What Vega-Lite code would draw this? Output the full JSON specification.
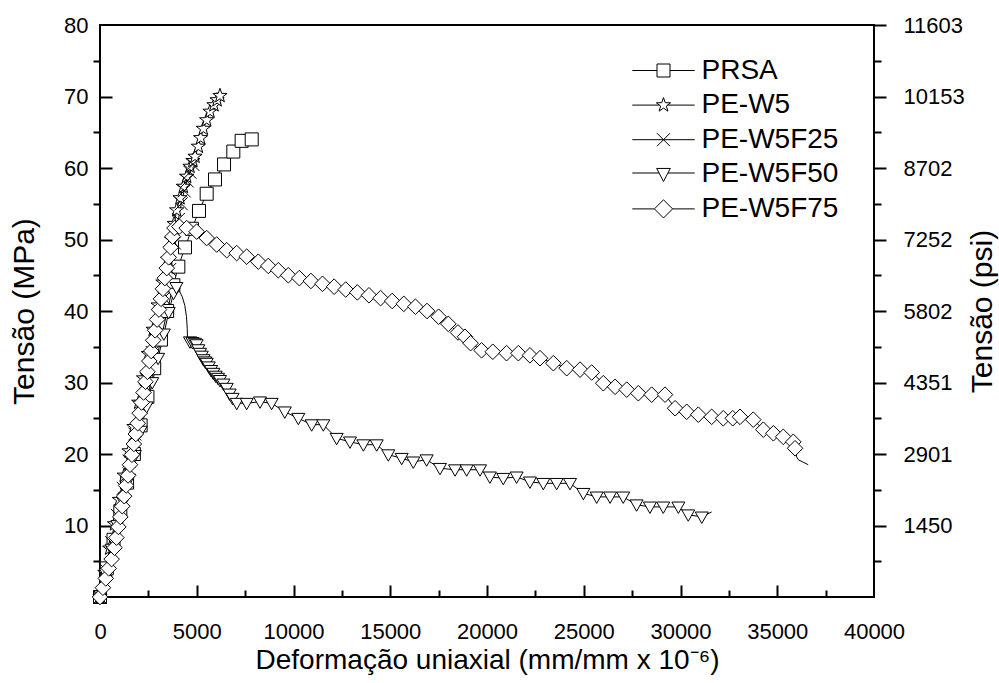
{
  "$schema": "https://vega.github.io/schema/vega-lite/v6.json",
  "width": 774,
  "height": 572,
  "autosize": {"type": "none"},
  "padding": {"left": 100, "top": 25, "right": 125, "bottom": 86},
  "background": "white",
  "config": {
    "font": "Liberation Sans",
    "view": {"stroke": "black", "strokeWidth": 2},
    "axis": {
      "domain": false,
      "grid": false,
      "labelFont": "Liberation Sans",
      "labelFontSize": 22,
      "labelColor": "black",
      "titleFont": "Liberation Sans",
      "titleFontSize": 28,
      "titleFontWeight": "normal",
      "titleColor": "black",
      "tickColor": "black",
      "tickWidth": 2
    }
  },
  "datasets": {
    "ensaios": [
      {"serie": "PRSA", "deformacao": 0, "tensao": 0, "marcador": 1},
      {"serie": "PRSA", "deformacao": 350, "tensao": 4, "marcador": 1},
      {"serie": "PRSA", "deformacao": 700, "tensao": 8, "marcador": 1},
      {"serie": "PRSA", "deformacao": 1050, "tensao": 12, "marcador": 1},
      {"serie": "PRSA", "deformacao": 1400, "tensao": 16, "marcador": 1},
      {"serie": "PRSA", "deformacao": 1750, "tensao": 20, "marcador": 1},
      {"serie": "PRSA", "deformacao": 2100, "tensao": 24, "marcador": 1},
      {"serie": "PRSA", "deformacao": 2450, "tensao": 28, "marcador": 1},
      {"serie": "PRSA", "deformacao": 2800, "tensao": 32, "marcador": 1},
      {"serie": "PRSA", "deformacao": 3150, "tensao": 36, "marcador": 1},
      {"serie": "PRSA", "deformacao": 3470, "tensao": 40, "marcador": 1},
      {"serie": "PRSA", "deformacao": 3790, "tensao": 43.6, "marcador": 1},
      {"serie": "PRSA", "deformacao": 4048, "tensao": 46.2, "marcador": 1},
      {"serie": "PRSA", "deformacao": 4393, "tensao": 48.9, "marcador": 1},
      {"serie": "PRSA", "deformacao": 4750, "tensao": 51.5, "marcador": 1},
      {"serie": "PRSA", "deformacao": 5116, "tensao": 54.0, "marcador": 1},
      {"serie": "PRSA", "deformacao": 5513, "tensao": 56.4, "marcador": 1},
      {"serie": "PRSA", "deformacao": 5943, "tensao": 58.4, "marcador": 1},
      {"serie": "PRSA", "deformacao": 6410, "tensao": 60.5, "marcador": 1},
      {"serie": "PRSA", "deformacao": 6890, "tensao": 62.3, "marcador": 1},
      {"serie": "PRSA", "deformacao": 7320, "tensao": 63.8, "marcador": 1},
      {"serie": "PRSA", "deformacao": 7840, "tensao": 64.0, "marcador": 1},

      {"serie": "PE-W5", "deformacao": 0, "tensao": 0, "marcador": 1},
      {"serie": "PE-W5", "deformacao": 250, "tensao": 3.4, "marcador": 1},
      {"serie": "PE-W5", "deformacao": 500, "tensao": 6.8, "marcador": 1},
      {"serie": "PE-W5", "deformacao": 750, "tensao": 10.2, "marcador": 1},
      {"serie": "PE-W5", "deformacao": 1000, "tensao": 13.6, "marcador": 1},
      {"serie": "PE-W5", "deformacao": 1250, "tensao": 17.0, "marcador": 1},
      {"serie": "PE-W5", "deformacao": 1500, "tensao": 20.4, "marcador": 1},
      {"serie": "PE-W5", "deformacao": 1750, "tensao": 23.8, "marcador": 1},
      {"serie": "PE-W5", "deformacao": 2000, "tensao": 27.2, "marcador": 1},
      {"serie": "PE-W5", "deformacao": 2250, "tensao": 30.6, "marcador": 1},
      {"serie": "PE-W5", "deformacao": 2500, "tensao": 34.0, "marcador": 1},
      {"serie": "PE-W5", "deformacao": 2750, "tensao": 37.4, "marcador": 1},
      {"serie": "PE-W5", "deformacao": 3000, "tensao": 40.8, "marcador": 1},
      {"serie": "PE-W5", "deformacao": 3250, "tensao": 44.0, "marcador": 1},
      {"serie": "PE-W5", "deformacao": 3500, "tensao": 47.2, "marcador": 1},
      {"serie": "PE-W5", "deformacao": 3700, "tensao": 50.0, "marcador": 1},
      {"serie": "PE-W5", "deformacao": 3830, "tensao": 52.2, "marcador": 1},
      {"serie": "PE-W5", "deformacao": 3962, "tensao": 54.1, "marcador": 1},
      {"serie": "PE-W5", "deformacao": 4134, "tensao": 55.8, "marcador": 1},
      {"serie": "PE-W5", "deformacao": 4307, "tensao": 57.4, "marcador": 1},
      {"serie": "PE-W5", "deformacao": 4479, "tensao": 58.8, "marcador": 1},
      {"serie": "PE-W5", "deformacao": 4651, "tensao": 60.2, "marcador": 1},
      {"serie": "PE-W5", "deformacao": 4800, "tensao": 61.0, "marcador": 1},
      {"serie": "PE-W5", "deformacao": 4910, "tensao": 61.6, "marcador": 1},
      {"serie": "PE-W5", "deformacao": 5083, "tensao": 63.0, "marcador": 1},
      {"serie": "PE-W5", "deformacao": 5200, "tensao": 64.2, "marcador": 1},
      {"serie": "PE-W5", "deformacao": 5340, "tensao": 65.5, "marcador": 1},
      {"serie": "PE-W5", "deformacao": 5513, "tensao": 66.7, "marcador": 1},
      {"serie": "PE-W5", "deformacao": 5685, "tensao": 67.9, "marcador": 1},
      {"serie": "PE-W5", "deformacao": 5890, "tensao": 68.8, "marcador": 1},
      {"serie": "PE-W5", "deformacao": 6050, "tensao": 69.5, "marcador": 1},
      {"serie": "PE-W5", "deformacao": 6200, "tensao": 70.1, "marcador": 1},

      {"serie": "PE-W5F25", "deformacao": 0, "tensao": 0, "marcador": 1},
      {"serie": "PE-W5F25", "deformacao": 300, "tensao": 3.8, "marcador": 1},
      {"serie": "PE-W5F25", "deformacao": 600, "tensao": 7.6, "marcador": 1},
      {"serie": "PE-W5F25", "deformacao": 900, "tensao": 11.4, "marcador": 1},
      {"serie": "PE-W5F25", "deformacao": 1200, "tensao": 15.2, "marcador": 1},
      {"serie": "PE-W5F25", "deformacao": 1500, "tensao": 19.0, "marcador": 1},
      {"serie": "PE-W5F25", "deformacao": 1800, "tensao": 22.8, "marcador": 1},
      {"serie": "PE-W5F25", "deformacao": 2100, "tensao": 26.6, "marcador": 1},
      {"serie": "PE-W5F25", "deformacao": 2400, "tensao": 30.4, "marcador": 1},
      {"serie": "PE-W5F25", "deformacao": 2700, "tensao": 34.2, "marcador": 1},
      {"serie": "PE-W5F25", "deformacao": 3000, "tensao": 38.0, "marcador": 1},
      {"serie": "PE-W5F25", "deformacao": 3300, "tensao": 41.8, "marcador": 1},
      {"serie": "PE-W5F25", "deformacao": 3600, "tensao": 45.8, "marcador": 1},
      {"serie": "PE-W5F25", "deformacao": 3850, "tensao": 49.5, "marcador": 1},
      {"serie": "PE-W5F25", "deformacao": 4050, "tensao": 52.8, "marcador": 1},
      {"serie": "PE-W5F25", "deformacao": 4200, "tensao": 55.0, "marcador": 1},
      {"serie": "PE-W5F25", "deformacao": 4350, "tensao": 56.8, "marcador": 1},
      {"serie": "PE-W5F25", "deformacao": 4500, "tensao": 58.2, "marcador": 1},
      {"serie": "PE-W5F25", "deformacao": 4650, "tensao": 59.4, "marcador": 1},
      {"serie": "PE-W5F25", "deformacao": 4800, "tensao": 60.5, "marcador": 1},

      {"serie": "PE-W5F50", "deformacao": 0, "tensao": 0, "marcador": 1},
      {"serie": "PE-W5F50", "deformacao": 300, "tensao": 3.3, "marcador": 1},
      {"serie": "PE-W5F50", "deformacao": 600, "tensao": 6.7, "marcador": 1},
      {"serie": "PE-W5F50", "deformacao": 900, "tensao": 10.0, "marcador": 1},
      {"serie": "PE-W5F50", "deformacao": 1200, "tensao": 13.3, "marcador": 1},
      {"serie": "PE-W5F50", "deformacao": 1500, "tensao": 16.5, "marcador": 1},
      {"serie": "PE-W5F50", "deformacao": 1800, "tensao": 19.8, "marcador": 1},
      {"serie": "PE-W5F50", "deformacao": 2100, "tensao": 23.2, "marcador": 1},
      {"serie": "PE-W5F50", "deformacao": 2400, "tensao": 26.6, "marcador": 1},
      {"serie": "PE-W5F50", "deformacao": 2700, "tensao": 30.0, "marcador": 1},
      {"serie": "PE-W5F50", "deformacao": 3000, "tensao": 33.4, "marcador": 1},
      {"serie": "PE-W5F50", "deformacao": 3300, "tensao": 36.8, "marcador": 1},
      {"serie": "PE-W5F50", "deformacao": 3550, "tensao": 39.8, "marcador": 1},
      {"serie": "PE-W5F50", "deformacao": 3800, "tensao": 42.5, "marcador": 1},
      {"serie": "PE-W5F50", "deformacao": 3950, "tensao": 43.3, "marcador": 1},
      {"serie": "PE-W5F50", "deformacao": 4100, "tensao": 42.8, "marcador": 0},
      {"serie": "PE-W5F50", "deformacao": 4250, "tensao": 42.0, "marcador": 0},
      {"serie": "PE-W5F50", "deformacao": 4380, "tensao": 40.8, "marcador": 0},
      {"serie": "PE-W5F50", "deformacao": 4470, "tensao": 39.2, "marcador": 0},
      {"serie": "PE-W5F50", "deformacao": 4510, "tensao": 37.5, "marcador": 0},
      {"serie": "PE-W5F50", "deformacao": 4520, "tensao": 36.2, "marcador": 0},
      {"serie": "PE-W5F50", "deformacao": 4651, "tensao": 35.7, "marcador": 1},
      {"serie": "PE-W5F50", "deformacao": 4780, "tensao": 35.6, "marcador": 1},
      {"serie": "PE-W5F50", "deformacao": 4900, "tensao": 35.5, "marcador": 1},
      {"serie": "PE-W5F50", "deformacao": 4995, "tensao": 35.3, "marcador": 1},
      {"serie": "PE-W5F50", "deformacao": 5080, "tensao": 34.6, "marcador": 1},
      {"serie": "PE-W5F50", "deformacao": 5168, "tensao": 34.1, "marcador": 1},
      {"serie": "PE-W5F50", "deformacao": 5260, "tensao": 33.7, "marcador": 1},
      {"serie": "PE-W5F50", "deformacao": 5350, "tensao": 33.2, "marcador": 1},
      {"serie": "PE-W5F50", "deformacao": 5440, "tensao": 32.9, "marcador": 1},
      {"serie": "PE-W5F50", "deformacao": 5513, "tensao": 32.7, "marcador": 1},
      {"serie": "PE-W5F50", "deformacao": 5620, "tensao": 32.2, "marcador": 1},
      {"serie": "PE-W5F50", "deformacao": 5740, "tensao": 31.7, "marcador": 1},
      {"serie": "PE-W5F50", "deformacao": 5857, "tensao": 31.3, "marcador": 1},
      {"serie": "PE-W5F50", "deformacao": 5980, "tensao": 30.9, "marcador": 1},
      {"serie": "PE-W5F50", "deformacao": 6100, "tensao": 30.6, "marcador": 1},
      {"serie": "PE-W5F50", "deformacao": 6200, "tensao": 30.3, "marcador": 1},
      {"serie": "PE-W5F50", "deformacao": 6380, "tensao": 29.8, "marcador": 1},
      {"serie": "PE-W5F50", "deformacao": 6548, "tensao": 29.2, "marcador": 1},
      {"serie": "PE-W5F50", "deformacao": 6700, "tensao": 28.4, "marcador": 1},
      {"serie": "PE-W5F50", "deformacao": 6850, "tensao": 27.8, "marcador": 1},
      {"serie": "PE-W5F50", "deformacao": 7064, "tensao": 27.1, "marcador": 1},
      {"serie": "PE-W5F50", "deformacao": 7580, "tensao": 27.1, "marcador": 1},
      {"serie": "PE-W5F50", "deformacao": 8270, "tensao": 27.3, "marcador": 1},
      {"serie": "PE-W5F50", "deformacao": 8870, "tensao": 27.1, "marcador": 1},
      {"serie": "PE-W5F50", "deformacao": 9550, "tensao": 25.9, "marcador": 1},
      {"serie": "PE-W5F50", "deformacao": 10250, "tensao": 25.0, "marcador": 1},
      {"serie": "PE-W5F50", "deformacao": 10940, "tensao": 24.1, "marcador": 1},
      {"serie": "PE-W5F50", "deformacao": 11540, "tensao": 24.1, "marcador": 1},
      {"serie": "PE-W5F50", "deformacao": 12230, "tensao": 22.2, "marcador": 1},
      {"serie": "PE-W5F50", "deformacao": 12920, "tensao": 21.7, "marcador": 1},
      {"serie": "PE-W5F50", "deformacao": 13610, "tensao": 21.3, "marcador": 1},
      {"serie": "PE-W5F50", "deformacao": 14300, "tensao": 21.3, "marcador": 1},
      {"serie": "PE-W5F50", "deformacao": 14900, "tensao": 19.9, "marcador": 1},
      {"serie": "PE-W5F50", "deformacao": 15590, "tensao": 19.4, "marcador": 1},
      {"serie": "PE-W5F50", "deformacao": 16190, "tensao": 18.9, "marcador": 1},
      {"serie": "PE-W5F50", "deformacao": 16880, "tensao": 19.2, "marcador": 1},
      {"serie": "PE-W5F50", "deformacao": 17570, "tensao": 18.0, "marcador": 1},
      {"serie": "PE-W5F50", "deformacao": 18350, "tensao": 17.8, "marcador": 1},
      {"serie": "PE-W5F50", "deformacao": 18950, "tensao": 17.8, "marcador": 1},
      {"serie": "PE-W5F50", "deformacao": 19640, "tensao": 17.8, "marcador": 1},
      {"serie": "PE-W5F50", "deformacao": 20150, "tensao": 16.8, "marcador": 1},
      {"serie": "PE-W5F50", "deformacao": 20840, "tensao": 16.6, "marcador": 1},
      {"serie": "PE-W5F50", "deformacao": 21530, "tensao": 16.8, "marcador": 1},
      {"serie": "PE-W5F50", "deformacao": 22220, "tensao": 16.1, "marcador": 1},
      {"serie": "PE-W5F50", "deformacao": 22910, "tensao": 15.9, "marcador": 1},
      {"serie": "PE-W5F50", "deformacao": 23600, "tensao": 15.9, "marcador": 1},
      {"serie": "PE-W5F50", "deformacao": 24290, "tensao": 15.9, "marcador": 1},
      {"serie": "PE-W5F50", "deformacao": 24980, "tensao": 14.5, "marcador": 1},
      {"serie": "PE-W5F50", "deformacao": 25670, "tensao": 14.0, "marcador": 1},
      {"serie": "PE-W5F50", "deformacao": 26360, "tensao": 14.0, "marcador": 1},
      {"serie": "PE-W5F50", "deformacao": 27040, "tensao": 14.0, "marcador": 1},
      {"serie": "PE-W5F50", "deformacao": 27730, "tensao": 12.9, "marcador": 1},
      {"serie": "PE-W5F50", "deformacao": 28420, "tensao": 12.6, "marcador": 1},
      {"serie": "PE-W5F50", "deformacao": 29110, "tensao": 12.6, "marcador": 1},
      {"serie": "PE-W5F50", "deformacao": 29890, "tensao": 12.6, "marcador": 1},
      {"serie": "PE-W5F50", "deformacao": 30400, "tensao": 11.5, "marcador": 1},
      {"serie": "PE-W5F50", "deformacao": 31100, "tensao": 11.2, "marcador": 1},
      {"serie": "PE-W5F50", "deformacao": 31610, "tensao": 11.9, "marcador": 0},

      {"serie": "PE-W5F75", "deformacao": 0, "tensao": 0, "marcador": 1},
      {"serie": "PE-W5F75", "deformacao": 150, "tensao": 1.3, "marcador": 1},
      {"serie": "PE-W5F75", "deformacao": 300, "tensao": 2.6, "marcador": 1},
      {"serie": "PE-W5F75", "deformacao": 450, "tensao": 4.0, "marcador": 1},
      {"serie": "PE-W5F75", "deformacao": 600, "tensao": 5.3, "marcador": 1},
      {"serie": "PE-W5F75", "deformacao": 750, "tensao": 6.9, "marcador": 1},
      {"serie": "PE-W5F75", "deformacao": 850, "tensao": 8.3, "marcador": 1},
      {"serie": "PE-W5F75", "deformacao": 950, "tensao": 9.8, "marcador": 1},
      {"serie": "PE-W5F75", "deformacao": 1050, "tensao": 11.2, "marcador": 1},
      {"serie": "PE-W5F75", "deformacao": 1150, "tensao": 12.7, "marcador": 1},
      {"serie": "PE-W5F75", "deformacao": 1250, "tensao": 14.1, "marcador": 1},
      {"serie": "PE-W5F75", "deformacao": 1350, "tensao": 15.6, "marcador": 1},
      {"serie": "PE-W5F75", "deformacao": 1450, "tensao": 17.0, "marcador": 1},
      {"serie": "PE-W5F75", "deformacao": 1550, "tensao": 18.5, "marcador": 1},
      {"serie": "PE-W5F75", "deformacao": 1650, "tensao": 19.9, "marcador": 1},
      {"serie": "PE-W5F75", "deformacao": 1750, "tensao": 21.4, "marcador": 1},
      {"serie": "PE-W5F75", "deformacao": 1850, "tensao": 22.8, "marcador": 1},
      {"serie": "PE-W5F75", "deformacao": 1950, "tensao": 24.3, "marcador": 1},
      {"serie": "PE-W5F75", "deformacao": 2050, "tensao": 25.7, "marcador": 1},
      {"serie": "PE-W5F75", "deformacao": 2150, "tensao": 27.2, "marcador": 1},
      {"serie": "PE-W5F75", "deformacao": 2250, "tensao": 28.6, "marcador": 1},
      {"serie": "PE-W5F75", "deformacao": 2350, "tensao": 30.1, "marcador": 1},
      {"serie": "PE-W5F75", "deformacao": 2450, "tensao": 31.5, "marcador": 1},
      {"serie": "PE-W5F75", "deformacao": 2550, "tensao": 33.0, "marcador": 1},
      {"serie": "PE-W5F75", "deformacao": 2650, "tensao": 34.4, "marcador": 1},
      {"serie": "PE-W5F75", "deformacao": 2750, "tensao": 35.9, "marcador": 1},
      {"serie": "PE-W5F75", "deformacao": 2850, "tensao": 37.3, "marcador": 1},
      {"serie": "PE-W5F75", "deformacao": 2950, "tensao": 38.8, "marcador": 1},
      {"serie": "PE-W5F75", "deformacao": 3050, "tensao": 40.2, "marcador": 1},
      {"serie": "PE-W5F75", "deformacao": 3150, "tensao": 41.7, "marcador": 1},
      {"serie": "PE-W5F75", "deformacao": 3250, "tensao": 43.1, "marcador": 1},
      {"serie": "PE-W5F75", "deformacao": 3350, "tensao": 44.6, "marcador": 1},
      {"serie": "PE-W5F75", "deformacao": 3450, "tensao": 46.0, "marcador": 1},
      {"serie": "PE-W5F75", "deformacao": 3550, "tensao": 47.5, "marcador": 1},
      {"serie": "PE-W5F75", "deformacao": 3650, "tensao": 48.9, "marcador": 1},
      {"serie": "PE-W5F75", "deformacao": 3750, "tensao": 50.4, "marcador": 1},
      {"serie": "PE-W5F75", "deformacao": 3850, "tensao": 51.6, "marcador": 1},
      {"serie": "PE-W5F75", "deformacao": 4100, "tensao": 51.8, "marcador": 1},
      {"serie": "PE-W5F75", "deformacao": 4479, "tensao": 51.6, "marcador": 1},
      {"serie": "PE-W5F75", "deformacao": 4995, "tensao": 51.1, "marcador": 1},
      {"serie": "PE-W5F75", "deformacao": 5513, "tensao": 50.2, "marcador": 1},
      {"serie": "PE-W5F75", "deformacao": 6030, "tensao": 49.3, "marcador": 1},
      {"serie": "PE-W5F75", "deformacao": 6548, "tensao": 48.5, "marcador": 1},
      {"serie": "PE-W5F75", "deformacao": 7064, "tensao": 48.1, "marcador": 1},
      {"serie": "PE-W5F75", "deformacao": 7580, "tensao": 47.6, "marcador": 1},
      {"serie": "PE-W5F75", "deformacao": 8182, "tensao": 46.9, "marcador": 1},
      {"serie": "PE-W5F75", "deformacao": 8698, "tensao": 46.3, "marcador": 1},
      {"serie": "PE-W5F75", "deformacao": 9215, "tensao": 45.7, "marcador": 1},
      {"serie": "PE-W5F75", "deformacao": 9731, "tensao": 45.0, "marcador": 1},
      {"serie": "PE-W5F75", "deformacao": 10300, "tensao": 44.6, "marcador": 1},
      {"serie": "PE-W5F75", "deformacao": 10900, "tensao": 44.2, "marcador": 1},
      {"serie": "PE-W5F75", "deformacao": 11500, "tensao": 43.8, "marcador": 1},
      {"serie": "PE-W5F75", "deformacao": 12100, "tensao": 43.4, "marcador": 1},
      {"serie": "PE-W5F75", "deformacao": 12700, "tensao": 43.0, "marcador": 1},
      {"serie": "PE-W5F75", "deformacao": 13300, "tensao": 42.6, "marcador": 1},
      {"serie": "PE-W5F75", "deformacao": 13900, "tensao": 42.2, "marcador": 1},
      {"serie": "PE-W5F75", "deformacao": 14500, "tensao": 41.8, "marcador": 1},
      {"serie": "PE-W5F75", "deformacao": 15100, "tensao": 41.4, "marcador": 1},
      {"serie": "PE-W5F75", "deformacao": 15700, "tensao": 41.0, "marcador": 1},
      {"serie": "PE-W5F75", "deformacao": 16300, "tensao": 40.6, "marcador": 1},
      {"serie": "PE-W5F75", "deformacao": 16900, "tensao": 40.0, "marcador": 1},
      {"serie": "PE-W5F75", "deformacao": 17500, "tensao": 39.2, "marcador": 1},
      {"serie": "PE-W5F75", "deformacao": 18000, "tensao": 38.2, "marcador": 1},
      {"serie": "PE-W5F75", "deformacao": 18500, "tensao": 37.0, "marcador": 1},
      {"serie": "PE-W5F75", "deformacao": 18860, "tensao": 36.4, "marcador": 1},
      {"serie": "PE-W5F75", "deformacao": 19150, "tensao": 35.5, "marcador": 1},
      {"serie": "PE-W5F75", "deformacao": 19720, "tensao": 34.5, "marcador": 1},
      {"serie": "PE-W5F75", "deformacao": 20300, "tensao": 34.3, "marcador": 1},
      {"serie": "PE-W5F75", "deformacao": 21010, "tensao": 34.1, "marcador": 1},
      {"serie": "PE-W5F75", "deformacao": 21620, "tensao": 34.1, "marcador": 1},
      {"serie": "PE-W5F75", "deformacao": 22220, "tensao": 33.8, "marcador": 1},
      {"serie": "PE-W5F75", "deformacao": 22740, "tensao": 33.4, "marcador": 1},
      {"serie": "PE-W5F75", "deformacao": 23430, "tensao": 32.7, "marcador": 1},
      {"serie": "PE-W5F75", "deformacao": 24120, "tensao": 32.0, "marcador": 1},
      {"serie": "PE-W5F75", "deformacao": 24810, "tensao": 31.8, "marcador": 1},
      {"serie": "PE-W5F75", "deformacao": 25410, "tensao": 31.4, "marcador": 1},
      {"serie": "PE-W5F75", "deformacao": 26010, "tensao": 29.9, "marcador": 1},
      {"serie": "PE-W5F75", "deformacao": 26620, "tensao": 29.4, "marcador": 1},
      {"serie": "PE-W5F75", "deformacao": 27220, "tensao": 29.0, "marcador": 1},
      {"serie": "PE-W5F75", "deformacao": 27820, "tensao": 28.5, "marcador": 1},
      {"serie": "PE-W5F75", "deformacao": 28510, "tensao": 28.3, "marcador": 1},
      {"serie": "PE-W5F75", "deformacao": 29200, "tensao": 28.3, "marcador": 1},
      {"serie": "PE-W5F75", "deformacao": 29720, "tensao": 26.4, "marcador": 1},
      {"serie": "PE-W5F75", "deformacao": 30320, "tensao": 25.9, "marcador": 1},
      {"serie": "PE-W5F75", "deformacao": 30920, "tensao": 25.5, "marcador": 1},
      {"serie": "PE-W5F75", "deformacao": 31610, "tensao": 25.2, "marcador": 1},
      {"serie": "PE-W5F75", "deformacao": 32210, "tensao": 25.0, "marcador": 1},
      {"serie": "PE-W5F75", "deformacao": 32700, "tensao": 25.0, "marcador": 1},
      {"serie": "PE-W5F75", "deformacao": 33075, "tensao": 25.2, "marcador": 1},
      {"serie": "PE-W5F75", "deformacao": 33760, "tensao": 24.8, "marcador": 1},
      {"serie": "PE-W5F75", "deformacao": 34280, "tensao": 23.4, "marcador": 1},
      {"serie": "PE-W5F75", "deformacao": 34800, "tensao": 22.9, "marcador": 1},
      {"serie": "PE-W5F75", "deformacao": 35310, "tensao": 22.4, "marcador": 1},
      {"serie": "PE-W5F75", "deformacao": 35830, "tensao": 21.7, "marcador": 1},
      {"serie": "PE-W5F75", "deformacao": 35920, "tensao": 20.8, "marcador": 1},
      {"serie": "PE-W5F75", "deformacao": 36000, "tensao": 19.6, "marcador": 0},
      {"serie": "PE-W5F75", "deformacao": 36090, "tensao": 19.2, "marcador": 0},
      {"serie": "PE-W5F75", "deformacao": 36600, "tensao": 18.5, "marcador": 0}
    ]
  },
  "resolve": {"scale": {"x": "independent", "y": "independent", "shape": "independent"}},
  "layer": [
    {
      "data": {"name": "ensaios"},
      "mark": {"type": "line", "stroke": "black", "strokeWidth": 1},
      "encoding": {
        "x": {
          "field": "deformacao", "type": "quantitative",
          "scale": {"domain": [0, 40000], "nice": false, "zero": false},
          "axis": {
            "orient": "bottom",
            "values": [0, 5000, 10000, 15000, 20000, 25000, 30000, 35000, 40000],
            "format": "d", "ticks": false, "tickSize": 0, "labelPadding": 24, "labelFlush": false,
            "title": "Deformação uniaxial (mm/mm x 10⁻⁶)", "titlePadding": 4
          }
        },
        "y": {
          "field": "tensao", "type": "quantitative",
          "scale": {"domain": [0, 80], "nice": false, "zero": false},
          "axis": {
            "orient": "left",
            "values": [10, 20, 30, 40, 50, 60, 70, 80],
            "ticks": false, "tickSize": 0, "labelPadding": 12, "labelFlush": false,
            "title": "Tensão (MPa)", "titleFontSize": 30, "titlePadding": 24
          }
        },
        "detail": {"field": "serie"},
        "order": {"value": null}
      }
    },
    {
      "data": {"name": "ensaios"},
      "transform": [{"filter": "datum.marcador == 1"}],
      "mark": {"type": "point", "filled": true, "fill": "white", "stroke": "black", "strokeWidth": 1, "opacity": 1, "size": 169},
      "encoding": {
        "x": {
          "field": "deformacao", "type": "quantitative",
          "scale": {"domain": [0, 40000], "nice": false, "zero": false},
          "axis": {"orient": "bottom", "values": [5000, 10000, 15000, 20000, 25000, 30000, 35000], "tickSize": -12, "labels": false, "title": null}
        },
        "y": {
          "field": "tensao", "type": "quantitative",
          "scale": {"domain": [0, 80], "nice": false, "zero": false},
          "axis": {"orient": "left", "values": [10, 20, 30, 40, 50, 60, 70], "tickSize": -12, "labels": false, "title": null}
        },
        "shape": {
          "field": "serie", "type": "nominal",
          "scale": {
            "domain": ["PRSA", "PE-W5", "PE-W5F25", "PE-W5F50", "PE-W5F75"],
            "range": [
              "M-1,-1H1V1H-1Z",
              "M0,-1.15L0.27,-0.372L1.094,-0.355L0.437,0.142L0.676,0.93L0,0.46L-0.676,0.93L-0.437,0.142L-1.094,-0.355L-0.27,-0.372Z",
              "M-1,-1L1,1M-1,1L1,-1",
              "M-1,-0.75L1,-0.75L0,1Z",
              "M0,-1.2L1.2,0L0,1.2L-1.2,0Z"
            ]
          },
          "legend": null
        }
      }
    },
    {
      "data": {"name": "ensaios"},
      "transform": [{"filter": "datum.marcador == 2"}],
      "mark": {"type": "point", "filled": false, "color": "black", "strokeWidth": 1, "size": 169},
      "encoding": {
        "x": {
          "field": "deformacao", "type": "quantitative",
          "scale": {"domain": [0, 40000], "nice": false, "zero": false},
          "axis": {"orient": "bottom", "values": [2500, 7500, 12500, 17500, 22500, 27500, 32500, 37500], "tickSize": -7, "labels": false, "title": null}
        },
        "y": {
          "field": "tensao", "type": "quantitative",
          "scale": {"domain": [0, 80], "nice": false, "zero": false},
          "axis": {"orient": "left", "values": [5, 15, 25, 35, 45, 55, 65, 75], "tickSize": 7, "labels": false, "title": null}
        },
        "shape": {
          "field": "serie", "type": "nominal",
          "scale": {
            "domain": ["PRSA", "PE-W5", "PE-W5F25", "PE-W5F50", "PE-W5F75"],
            "range": [
              "M-4.8,0H-1M1,0H4.8M-1,-1H1V1H-1Z",
              "M-4.8,0H-0.63M0.63,0H4.8M0,-1.15L0.27,-0.372L1.094,-0.355L0.437,0.142L0.676,0.93L0,0.46L-0.676,0.93L-0.437,0.142L-1.094,-0.355L-0.27,-0.372Z",
              "M-4.8,0H4.8M-1,-1L1,1M-1,1L1,-1",
              "M-4.8,-0.2H-0.68M0.68,-0.2H4.8M-1.05,-0.9L1.05,-0.9L0,1.1Z",
              "M-4.8,0H-1.4M1.4,0H4.8M0,-1.4L1.4,0L0,1.4L-1.4,0Z"
            ]
          },
          "legend": {
            "title": null,
            "orient": "none",
            "legendX": 549.5,
            "legendY": 31.5,
            "padding": 0,
            "symbolSize": 169,
            "symbolStrokeColor": "black",
            "symbolStrokeWidth": 1,
            "symbolOpacity": 1,
            "labelFont": "Liberation Sans",
            "labelFontSize": 28,
            "labelColor": "black",
            "labelOffset": 24,
            "rowPadding": 6.6
          }
        }
      }
    },
    {
      "data": {"name": "ensaios"},
      "mark": {"type": "point", "opacity": 0},
      "encoding": {
        "y": {
          "field": "tensao", "type": "quantitative",
          "scale": {"domain": [0, 80], "nice": false, "zero": false},
          "axis": {
            "orient": "right",
            "values": [10, 20, 30, 40, 50, 60, 70, 80],
            "ticks": false, "tickSize": 0, "labelPadding": 29, "labelFlush": false, "labelAlign": "left",
            "labelExpr": "format(round(datum.value * 145.0377), 'd')",
            "title": "Tensão (psi)", "titleFontSize": 30, "titleAngle": 270, "titleBaseline": "top", "titlePadding": 3
          }
        }
      }
    },
    {
      "data": {"name": "ensaios"},
      "mark": {"type": "point", "opacity": 0},
      "encoding": {
        "y": {
          "field": "tensao", "type": "quantitative",
          "scale": {"domain": [0, 80], "nice": false, "zero": false},
          "axis": {"orient": "right", "values": [10, 20, 30, 40, 50, 60, 70, 80], "tickSize": 12, "labels": false, "title": null}
        }
      }
    },
    {
      "data": {"name": "ensaios"},
      "mark": {"type": "point", "opacity": 0},
      "encoding": {
        "y": {
          "field": "tensao", "type": "quantitative",
          "scale": {"domain": [0, 80], "nice": false, "zero": false},
          "axis": {"orient": "right", "values": [5, 15, 25, 35, 45, 55, 65, 75], "tickSize": 7, "labels": false, "title": null}
        }
      }
    }
  ]
}
